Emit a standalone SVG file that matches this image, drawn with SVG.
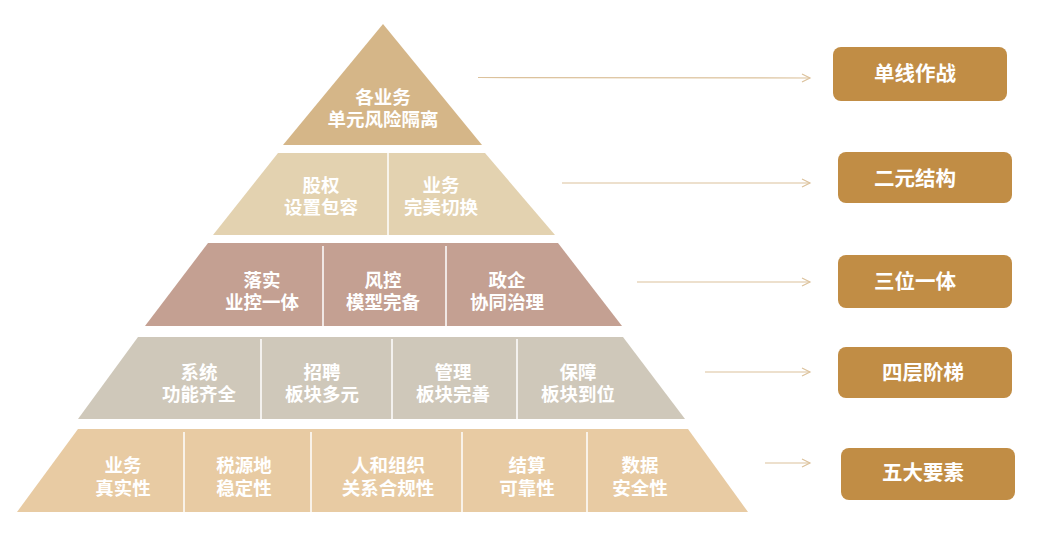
<svg xmlns="http://www.w3.org/2000/svg" width="1038" height="543" viewBox="0 0 1038 543">
<defs>
<marker id="ah" markerUnits="userSpaceOnUse" markerWidth="12" markerHeight="12" refX="9" refY="5" orient="auto">
<path d="M1,1 L9,5 L1,9" fill="none" stroke="#DCC29C" stroke-width="1.2"/>
</marker>
<style>
.t{font-family:"Noto Sans CJK SC","Microsoft YaHei",sans-serif;font-weight:700;fill:#FFFFFF;text-anchor:middle;font-size:18.5px}
.bt{font-family:"Noto Sans CJK SC","Microsoft YaHei",sans-serif;font-weight:700;fill:#FFFFFF;text-anchor:middle;font-size:20.5px}
.dv{stroke:#FFFFFF;stroke-width:1.5}
.box{fill:#C18D45}
.ar{stroke:#DCC29C;stroke-width:1.2;fill:none;marker-end:url(#ah)}
</style>
</defs>
<rect width="1038" height="543" fill="#FFFFFF"/>

<g id="layer1">
<polygon points="383,24 482,145 283,145" fill="#D5B688"/>
<text class="t" x="383" y="103.5">各业务<tspan x="383" dy="22">单元风险隔离</tspan></text>
</g>

<g id="layer2">
<polygon points="278,153 485,153 555,235 213,235" fill="#E3D2B0"/>
<line class="dv" x1="388" y1="153" x2="388" y2="235"/>
<text class="t" x="321" y="192">股权<tspan x="321" dy="22">设置包容</tspan></text>
<text class="t" x="441" y="192">业务<tspan x="441" dy="22">完美切换</tspan></text>
</g>

<g id="layer3">
<polygon points="208,243 558,243 622,326 145,326" fill="#C4A092"/>
<line class="dv" x1="323" y1="246" x2="323" y2="326"/>
<line class="dv" x1="446" y1="246" x2="446" y2="326"/>
<text class="t" x="262" y="287">落实<tspan x="262" dy="22">业控一体</tspan></text>
<text class="t" x="383" y="287">风控<tspan x="383" dy="22">模型完备</tspan></text>
<text class="t" x="507" y="287">政企<tspan x="507" dy="22">协同治理</tspan></text>
</g>

<g id="layer4">
<polygon points="138,337 623,337 685,419 78,419" fill="#CFC8BA"/>
<line class="dv" x1="261" y1="339" x2="261" y2="419"/>
<line class="dv" x1="392" y1="339" x2="392" y2="419"/>
<line class="dv" x1="517" y1="339" x2="517" y2="419"/>
<text class="t" x="199" y="379">系统<tspan x="199" dy="22">功能齐全</tspan></text>
<text class="t" x="322" y="379">招聘<tspan x="322" dy="22">板块多元</tspan></text>
<text class="t" x="453" y="379">管理<tspan x="453" dy="22">板块完善</tspan></text>
<text class="t" x="578" y="379">保障<tspan x="578" dy="22">板块到位</tspan></text>
</g>

<g id="layer5">
<polygon points="78,429 688,429 748,512 17,512" fill="#E8CBA3"/>
<line class="dv" x1="184" y1="432" x2="184" y2="512"/>
<line class="dv" x1="311" y1="432" x2="311" y2="512"/>
<line class="dv" x1="462" y1="432" x2="462" y2="512"/>
<line class="dv" x1="587" y1="432" x2="587" y2="512"/>
<text class="t" x="123" y="472">业务<tspan x="123" dy="23">真实性</tspan></text>
<text class="t" x="244" y="472">税源地<tspan x="244" dy="23">稳定性</tspan></text>
<text class="t" x="388" y="472">人和组织<tspan x="388" dy="23">关系合规性</tspan></text>
<text class="t" x="527" y="472">结算<tspan x="527" dy="23">可靠性</tspan></text>
<text class="t" x="640" y="472">数据<tspan x="640" dy="23">安全性</tspan></text>
</g>

<g id="connectors">
<line class="ar" x1="478" y1="77.5" x2="810" y2="78"/>
<line class="ar" x1="562" y1="183" x2="810" y2="183"/>
<line class="ar" x1="637" y1="282" x2="810" y2="282"/>
<line class="ar" x1="705" y1="372" x2="810" y2="372"/>
<line class="ar" x1="765" y1="463" x2="810" y2="463"/>
</g>

<g id="box1">
<rect class="box" x="833" y="47" width="174" height="54" rx="8"/>
<text class="bt" x="915" y="81">单线作战</text>
</g>
<g id="box2">
<rect class="box" x="838" y="152" width="174" height="51" rx="8"/>
<text class="bt" x="915" y="186">二元结构</text>
</g>
<g id="box3">
<rect class="box" x="838" y="255" width="174" height="53" rx="8"/>
<text class="bt" x="915" y="289">三位一体</text>
</g>
<g id="box4">
<rect class="box" x="838" y="347" width="174" height="51" rx="8"/>
<text class="bt" x="923" y="380">四层阶梯</text>
</g>
<g id="box5">
<rect class="box" x="841" y="448" width="174" height="52" rx="8"/>
<text class="bt" x="923" y="480">五大要素</text>
</g>
</svg>
